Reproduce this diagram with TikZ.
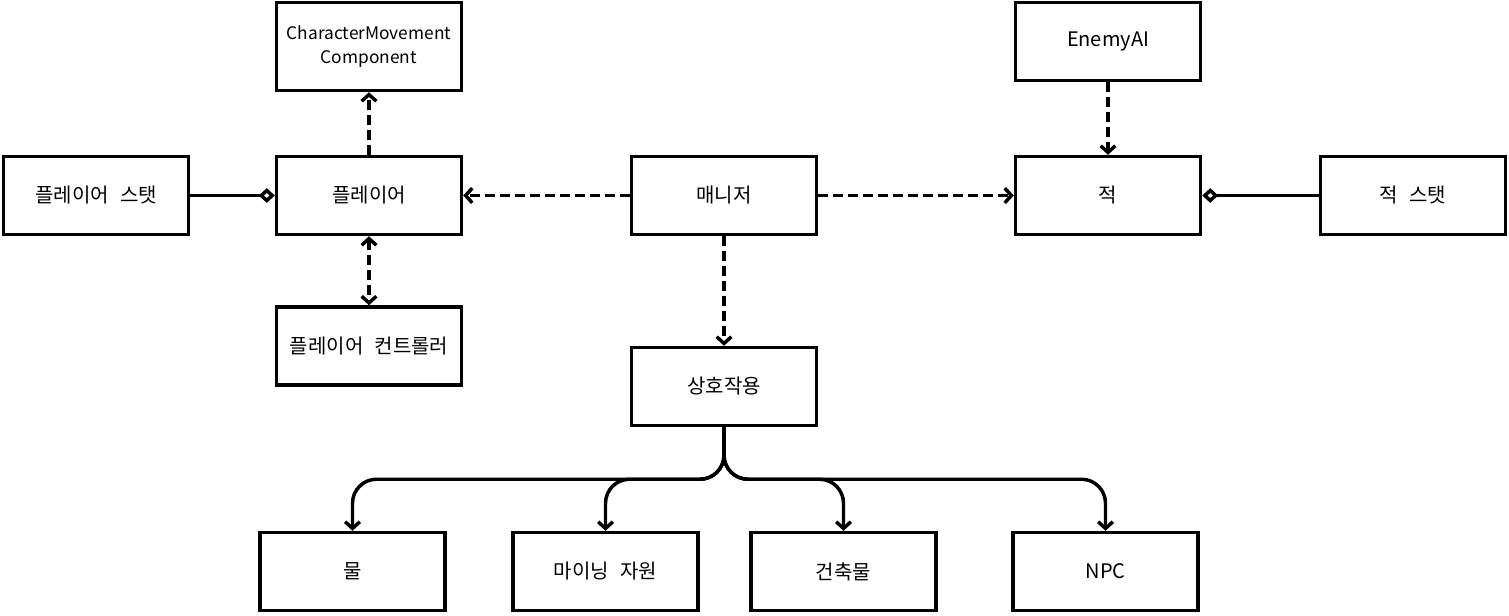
\documentclass[tikz,border=0pt]{standalone}
\usepackage{fontspec}
\setmainfont{Noto Sans CJK KR}[WordSpace=2.5]
\usepackage{tikz}
\usetikzlibrary{arrows.meta}
\tikzset{
  box/.style={draw, line width=2.6pt, minimum width=138.75pt, minimum height=58.5pt, align=center, font=\fontsize{15pt}{18pt}\selectfont, inner sep=2pt},
  dep/.style={line width=2.6pt, dash pattern=on 7.5pt off 3.75pt},
  tip/.style={-{Straight Barb[length=5pt,width=11pt]}},
  has/.style={{Diamond[open,length=12pt,width=11pt]}-}
}

\begin{document}
\begin{tikzpicture}[x=0.75pt, y=-0.75pt, line width=2.6pt]
\useasboundingbox (0,0) rectangle (1509,615);
\node[box] (pstat) at (96,195.5) {플레이어 스탯};
\node[box] (player) at (369,195.5) {플레이어};
\node[box, minimum height=66pt, font=\fontsize{13pt}{18pt}\selectfont] (cmc) at (369,46.5) {CharacterMovement\\Component};
\node[box] (ctrl) at (369,346) {플레이어 컨트롤러};
\node[box] (manager) at (724,195.5) {매니저};
\node[box] (enemy) at (1108,195.5) {적};
\node[box] (enemyai) at (1108,41.5) {EnemyAI};
\node[box] (estat) at (1413,195.5) {적 스탯};
\node[box] (inter) at (724,386.5) {상호작용};
\node[box] (water) at (352.5,571.5) {물};
\node[box] (mine) at (605.5,571.5) {마이닝 자원};
\node[box] (build) at (843.5,571.5) {건축물};
\node[box] (npc) at (1105.5,571.5) {NPC};
% 집합 관계
\draw[has] (player) -- (pstat);
\draw[has] (enemy) -- (estat);
% 의존 관계
\draw[dep, tip] (player) -- (cmc);
\draw[dep, {Straight Barb[length=5pt,width=11pt]}-{Straight Barb[length=5pt,width=11pt]}] (player) -- (ctrl);
\draw[dep, tip] (manager) -- (player);
\draw[dep, tip] (manager) -- (enemy);
\draw[dep, tip] (enemyai) -- (enemy);
\draw[dep, tip] (manager) -- (inter);
% 상호작용 대상
\foreach \t in {water, mine, build, npc}
  \draw[tip, rounded corners=18pt] (inter.south) -- ++(0,52) -| (\t.north);
\end{tikzpicture}
\end{document}
